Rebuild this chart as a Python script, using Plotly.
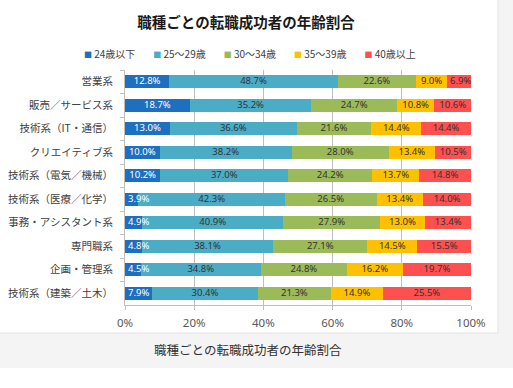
import plotly.graph_objects as go

categories = ["営業系", "販売／サービス系", "技術系（IT・通信）", "クリエイティブ系",
              "技術系（電気／機械）", "技術系（医療／化学）", "事務・アシスタント系",
              "専門職系", "企画・管理系", "技術系（建築／土木）"]
series_names = ["24歳以下", "25～29歳", "30～34歳", "35～39歳", "40歳以上"]
age_24 = [12.8, 18.7, 13.0, 10.0, 10.2, 3.9, 4.9, 4.8, 4.5, 7.9]
age_25_29 = [48.7, 35.2, 36.6, 38.2, 37.0, 42.3, 40.9, 38.1, 34.8, 30.4]
age_30_34 = [22.6, 24.7, 21.6, 28.0, 24.2, 26.5, 27.9, 27.1, 24.8, 21.3]
age_35_39 = [9.0, 10.8, 14.4, 13.4, 13.7, 13.4, 13.0, 14.5, 16.2, 14.9]
age_40 = [6.9, 10.6, 14.4, 10.5, 14.8, 14.0, 13.4, 15.5, 19.7, 25.5]
x_ticks = [0, 20, 40, 60, 80, 100]
title_text = "職種ごとの転職成功者の年齢割合"
caption_text = "職種ごとの転職成功者の年齢割合"

series_values = [age_24, age_25_29, age_30_34, age_35_39, age_40]
colors = ["#1E6FC0", "#4BACC6", "#9BBB59", "#FFC000", "#FF5050"]
text_colors = ["#FFFFFF", "#333333", "#333333", "#333333", "#333333"]

W, H = 513, 388
L, R, T, B = 124.5, 42, 70, 83
PW, PH = W - L - R, H - T - B

def px(x):
    return (x - L) / PW

def py(y):
    return (H - B - y) / PH

CJK = "Noto Sans CJK JP"
LABEL_FONT, LABEL_SIZE = "Noto Sans", 9.5
CHAR_W = {".": 0.268, "%": 0.82}

def label_width(s):
    return sum(CHAR_W.get(c, 0.572) for c in s) * LABEL_SIZE

fig = go.Figure()
starts = [0.0] * len(categories)
for name, vals, col, tc in zip(series_names, series_values, colors, text_colors):
    fig.add_trace(go.Bar(
        name=name, y=categories, x=vals, orientation="h",
        marker=dict(color=col, line=dict(width=0)),
        showlegend=False, hoverinfo="skip",
    ))
    labels = [f"{v:.1f}%" for v in vals]
    lx, lpos = [], []
    for s, v, t in zip(starts, vals, labels):
        seg_px = v * PW / 100
        if label_width(t) + 4 > seg_px:
            lx.append(s + 3 * 100 / PW)
            lpos.append("middle right")
        else:
            lx.append(s + v / 2)
            lpos.append("middle center")
    fig.add_trace(go.Scatter(
        x=lx, y=categories, mode="text", text=labels, textposition=lpos,
        textfont=dict(family=LABEL_FONT, size=LABEL_SIZE, color=tc),
        showlegend=False, hoverinfo="skip", cliponaxis=False,
    ))
    starts = [s + v for s, v in zip(starts, vals)]

legend_text = "\u00a0" * 8
legend_text = legend_text.join(
    f"<span style='color:{c};font-size:8px'>■</span>\u00a0{n}" for n, c in zip(series_names, colors)
)

shapes = [
    dict(type="rect", xref="paper", yref="paper", x0=px(498), x1=px(W + 2), y0=py(333), y1=py(-2),
         fillcolor="#F4F4F4", line=dict(width=0), layer="below"),
    dict(type="rect", xref="paper", yref="paper", x0=px(-2), x1=px(W + 2), y0=py(368), y1=py(333),
         fillcolor="#F4F4F4", line=dict(width=0), layer="below"),
    dict(type="line", xref="paper", yref="paper", x0=px(498), x1=px(498), y0=py(333), y1=py(-2),
         line=dict(color="#E2E2E2", width=1), layer="below"),
    dict(type="line", xref="paper", yref="paper", x0=px(-2), x1=px(498), y0=py(333), y1=py(333),
         line=dict(color="#E2E2E2", width=1), layer="below"),
]

fig.update_layout(
    barmode="stack", bargap=0.43,
    width=W, height=H,
    margin=dict(l=L, r=R, t=T, b=B, pad=0),
    paper_bgcolor="#FFFFFF", plot_bgcolor="#FFFFFF",
    showlegend=False,
    title=dict(text=f"<b>{title_text}</b>", font=dict(family=CJK, size=14.5, color="#1A1A1A"),
               x=246 / W, xref="container", xanchor="center",
               y=1 - 23 / H, yref="container", yanchor="middle"),
    xaxis=dict(range=[0, 100], tickvals=x_ticks, ticktext=[f"{v}%" for v in x_ticks],
               showgrid=True, gridcolor="#BFBFBF", gridwidth=1, zeroline=False,
               showline=True, linecolor="#BFBFBF", linewidth=1, automargin=False,
               ticks="outside", ticklen=4, tickcolor="#BFBFBF", ticklabelstandoff=3,
               tickfont=dict(family="Noto Sans", size=11.5, color="#595959"), fixedrange=True),
    yaxis=dict(categoryorder="array", categoryarray=categories, autorange="reversed",
               showline=True, linecolor="#BFBFBF", linewidth=1, automargin=False,
               ticks="outside", ticklen=4, tickcolor="#BFBFBF", tickson="boundaries",
               ticklabelstandoff=9, showgrid=False,
               tickfont=dict(family=CJK, size=10.5, color="#404040"), fixedrange=True),
    shapes=shapes,
    annotations=[
        dict(text=legend_text, xref="paper", yref="paper", x=px(250), y=py(53),
             xanchor="center", yanchor="middle", showarrow=False,
             font=dict(family=CJK, size=10, color="#404040")),
        dict(text=caption_text, xref="paper", yref="paper", x=px(248), y=py(349),
             xanchor="center", yanchor="middle", showarrow=False,
             font=dict(family=CJK, size=12.5, color="#333333")),
    ],
)

fig.write_html("out.html", config={"displayModeBar": False},
               post_script="document.body.style.margin='0';document.body.style.overflow='hidden';")
